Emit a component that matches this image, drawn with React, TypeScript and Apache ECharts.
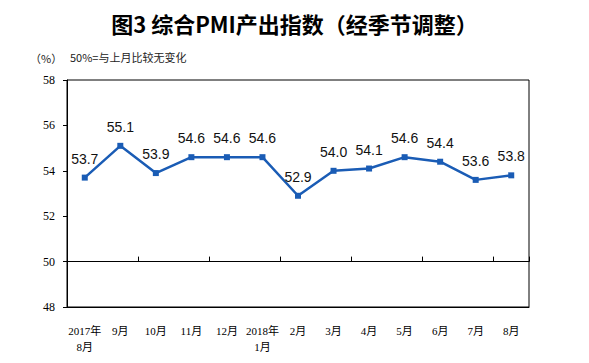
import React, { useEffect, useRef } from "react";
import * as echarts from "echarts";

const categories = [
  "2017年\n8月", "9月", "10月", "11月", "12月", "2018年\n1月",
  "2月", "3月", "4月", "5月", "6月", "7月", "8月",
];
const pmiOutput = [53.7, 55.1, 53.9, 54.6, 54.6, 54.6, 52.9, 54.0, 54.1, 54.6, 54.4, 53.6, 53.8];
const yMin = 48;
const yMax = 58;
const yInterval = 2;
const baseline = 50;

const titleText = "图3 综合PMI产出指数（经季节调整）";
const unitText = "（%）";
const noteText = "50%=与上月比较无变化";

const W = 589;
const H = 363;
const gridTop = 80;
const gridBottom = 56;
const gridLeft = 67;
const gridRight = 60;

export default function App() {
  const ref = useRef<HTMLDivElement>(null);
  useEffect(() => {
    document.body.style.margin = "0";
    if (!ref.current) return;
    const chart = echarts.init(ref.current, null, { renderer: "svg" });
    const plotH = H - gridTop - gridBottom;
    const baseOffset = -((baseline - yMin) / (yMax - yMin)) * plotH;
    chart.setOption({
      animation: false,
      backgroundColor: "#fff",
      title: {
        text: titleText,
        left: "center",
        top: 7,
        textStyle: {
          fontSize: 22,
          fontWeight: "bold",
          color: "#000",
          fontFamily: "Noto Sans CJK SC",
        },
      },
      graphic: [
        {
          type: "text",
          left: 30,
          top: 52,
          style: { text: unitText, fill: "#222", font: "11px 'Noto Sans CJK SC'" },
        },
        {
          type: "text",
          left: 70,
          top: 51,
          style: { text: noteText, fill: "#222", font: "11px 'Noto Sans CJK SC'" },
        },
      ],
      grid: {
        left: gridLeft,
        right: gridRight,
        top: gridTop,
        bottom: gridBottom,
        show: true,
        borderColor: "#000",
        borderWidth: 1,
        containLabel: false,
      },
      xAxis: [
        {
          type: "category",
          data: categories,
          boundaryGap: true,
          position: "bottom",
          axisLine: { show: true, lineStyle: { color: "#000", width: 1 } },
          axisTick: { show: false },
          axisLabel: {
            interval: 0,
            margin: 16,
            fontSize: 11,
            lineHeight: 16,
            color: "#000",
            fontFamily: "'Liberation Serif', 'Noto Sans CJK SC'",
          },
        },
        {
          type: "category",
          data: categories,
          boundaryGap: true,
          position: "bottom",
          offset: baseOffset,
          axisLine: { show: true, lineStyle: { color: "#000", width: 1.2 } },
          axisTick: { show: true, inside: true, length: 5, lineStyle: { color: "#000" } },
          axisLabel: { show: false },
        },
      ],
      yAxis: {
        type: "value",
        min: yMin,
        max: yMax,
        interval: yInterval,
        axisLine: { show: true, lineStyle: { color: "#000" } },
        axisTick: { show: true, length: 4, lineStyle: { color: "#000" } },
        splitLine: { show: false },
        axisLabel: {
          margin: 12,
          fontSize: 12,
          color: "#000",
          fontFamily: "'Liberation Serif'",
        },
      },
      series: [
        {
          type: "line",
          xAxisIndex: 0,
          data: pmiOutput,
          symbol: "rect",
          symbolSize: 6,
          lineStyle: { color: "#1a5cb5", width: 2.5 },
          itemStyle: { color: "#1a5cb5" },
          label: {
            show: true,
            position: "top",
            distance: 9,
            fontSize: 14,
            color: "#111",
            fontFamily: "'Liberation Sans', Arial",
            formatter: (p: any) => Number(p.value).toFixed(1),
          },
        },
      ],
    });
    return () => chart.dispose();
  }, []);
  return <div ref={ref} style={{ width: W, height: H }} />;
}
